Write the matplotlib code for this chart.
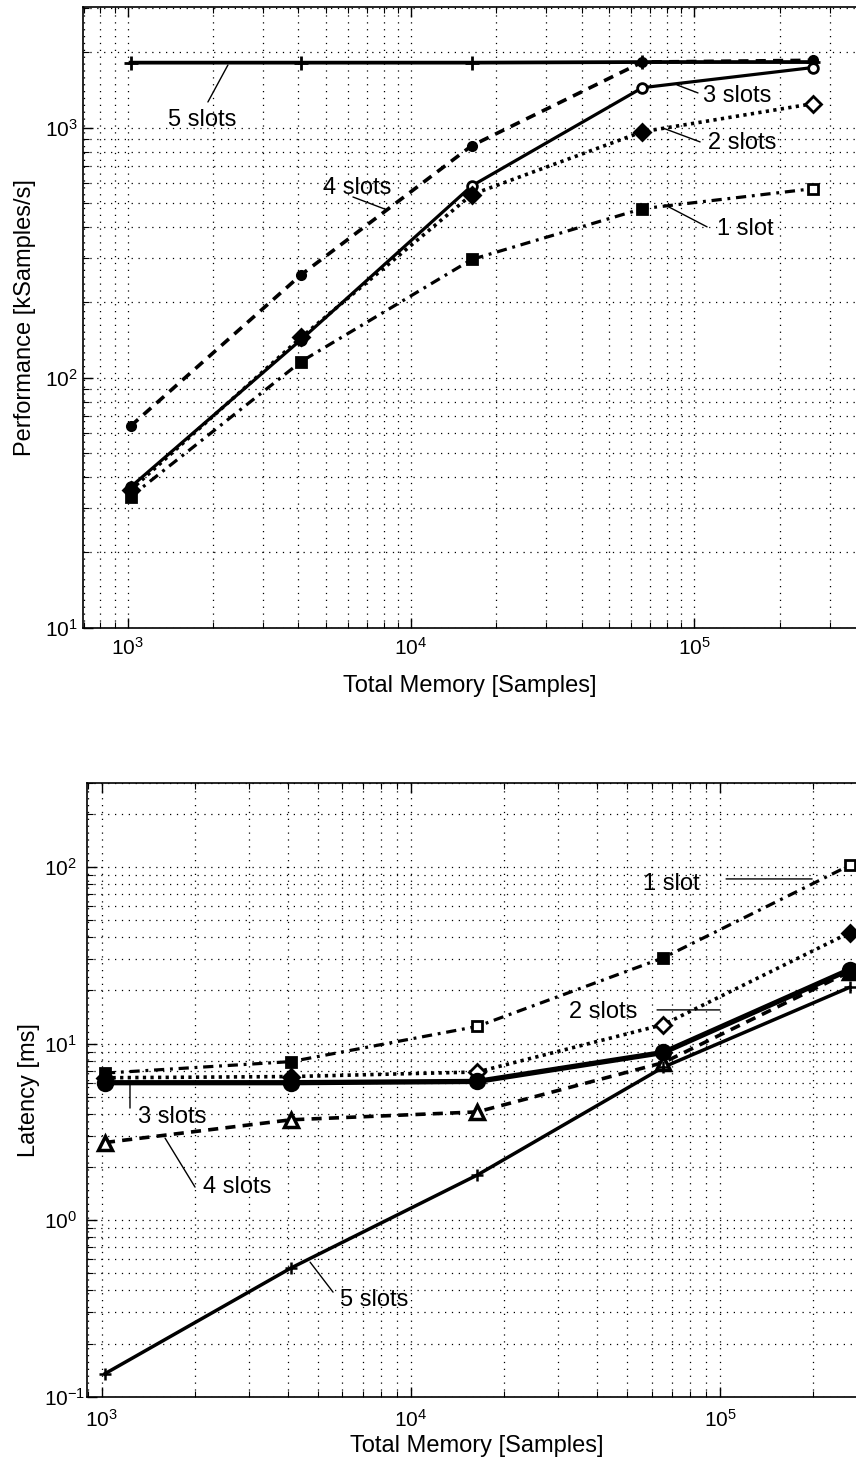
import matplotlib
matplotlib.use("Agg")
import matplotlib.pyplot as plt

plt.rcParams['font.family'] = ['Liberation Sans', 'DejaVu Sans']
plt.rcParams['mathtext.fontset'] = 'custom'
plt.rcParams['mathtext.rm'] = 'Liberation Sans'
plt.rcParams['mathtext.it'] = 'Liberation Sans:italic'
plt.rcParams['mathtext.bf'] = 'Liberation Sans:bold'

# ---------------- data ----------------
memory = [1024, 4096, 16384, 65536, 262144]

perf_1slot = [33.4, 116, 297, 474, 570]
perf_2slots = [35.5, 145, 540, 963, 1247]
perf_3slots = [36.5, 142, 585, 1445, 1740]
perf_4slots = [64, 258, 847, 1830, 1860]
perf_5slots = [1820, 1820, 1820, 1830, 1830]

lat_1slot = [6.8, 7.9, 12.5, 30.6, 102]
lat_2slots = [6.4, 6.5, 6.9, 12.8, 42.4]
lat_3slots = [6.0, 6.0, 6.1, 8.9, 26.2]
lat_4slots = [2.75, 3.7, 4.1, 7.8, 25.5]
lat_5slots = [0.135, 0.536, 1.8, 7.35, 20.8]

xlabel = "Total Memory [Samples]"
ylabel_top = "Performance [kSamples/s]"
ylabel_bot = "Latency [ms]"

# annotations: label, text position, line start, line end (data coords)
top_notes = [
    ("5 slots", (1829, 1073), (1920, 1267), (2259, 1781)),
    ("4 slots", (6442, 574), (6240, 528), (8222, 469)),
    ("3 slots", (141600, 1339), (103000, 1377), (86900, 1482)),
    ("2 slots", (147300, 865), (104800, 877), (77400, 997)),
    ("1 slot", (151000, 392), (110900, 401), (78700, 491)),
]
bot_notes = [
    ("1 slot", (69300, 80.1), (104500, 85.5), (198300, 85.5)),
    ("2 slots", (41800, 15.0), (62500, 15.5), (99900, 15.5)),
    ("3 slots", (1688, 3.83), (1234, 4.31), (1234, 5.97)),
    ("4 slots", (2739, 1.538), (2003, 1.538), (1602, 2.915)),
    ("5 slots", (7599, 0.352), (5598, 0.391), (4718, 0.578)),
]

fig = plt.figure(figsize=(8.56, 14.62), dpi=100)
ax1 = fig.add_axes([0.0964, 0.5707, 0.9036, 0.4243])
ax2 = fig.add_axes([0.1020, 0.04466, 0.8980, 0.4200])


def draw(ax, x, y, ls, lw, marker, ms, fills, mew, z=2):
    ax.plot(x, y, color='k', ls=ls, lw=lw, zorder=z)
    for fc in dict.fromkeys(fills):
        idx = [i for i, f in enumerate(fills) if f == fc]
        ax.plot(x, y, ls='none', marker=marker, ms=ms, mfc=fc, mec='k',
                mew=mew, markevery=idx, zorder=z + 0.5)


DASH = (0, (2.8, 2.0))
DASHDOT = (0, (3.2, 1.8, 0.9, 1.8))
DOT = (0, (0.9, 1.2))

# ---- top: performance ----
draw(ax1, memory, perf_5slots, '-', 2.7, '+', 10, ['k'] * 5, 2.0)
draw(ax1, memory, perf_4slots, DASH, 2.6, 'o', 6.5, ['k'] * 5, 1.5)
draw(ax1, memory, perf_3slots, '-', 2.3, 'o', 7, ['w'] * 5, 2.0)
draw(ax1, memory, perf_2slots, DOT, 2.6, 'D', 8.5, ['k', 'k', 'k', 'k', 'w'], 2.0)
draw(ax1, memory, perf_1slot, DASHDOT, 2.3, 's', 7, ['k', 'k', 'k', 'k', 'w'], 2.0)

# ---- bottom: latency ----
draw(ax2, memory, lat_1slot, DASHDOT, 2.3, 's', 7, ['k', 'k', 'w', 'k', 'w'], 2.0)
draw(ax2, memory, lat_2slots, DOT, 2.6, 'D', 8.5, ['k', 'k', 'w', 'w', 'k'], 2.0)
draw(ax2, memory, lat_4slots, DASH, 2.6, '^', 10, ['w'] * 5, 2.5)
draw(ax2, memory, lat_5slots, '-', 2.5, '+', 8, ['k'] * 5, 1.8)
draw(ax2, memory, lat_3slots, '-', 3.8, 'o', 11, ['k'] * 5, 1.5, z=3)

for ax, notes in ((ax1, top_notes), (ax2, bot_notes)):
    for label, tpos, p0, p1 in notes:
        ax.text(tpos[0], tpos[1], label, fontsize=17, ha='center',
                va='center', zorder=5)
        ax.annotate('', xy=p1, xytext=p0,
                    arrowprops=dict(arrowstyle='-', lw=1.0, color='k',
                                    shrinkA=0, shrinkB=0))

ax1.set_xlim(693, 372000)
ax1.set_ylim(10, 3030)
ax2.set_xlim(898, 275000)
ax2.set_ylim(0.1, 300)

for ax in (ax1, ax2):
    ax.set_xscale('log')
    ax.set_yscale('log')
    ax.grid(True, which='both', color='k', ls=(0, (1.0, 4.5)), lw=0.9)
    ax.set_axisbelow(True)
    ax.tick_params(which='both', direction='in', top=True, right=False,
                   labelsize=15, colors='k')
    ax.tick_params(which='major', length=7, width=1.0)
    ax.tick_params(which='minor', length=4, width=0.8)
    ax.spines['right'].set_visible(False)
    for s in ('left', 'bottom', 'top'):
        ax.spines[s].set_linewidth(1.2)
    ax.set_xlabel(xlabel, fontsize=17)

ax1.set_ylabel(ylabel_top, fontsize=17)
ax2.set_ylabel(ylabel_bot, fontsize=17)

ax1.tick_params(axis='x', which='major', pad=7)
ax2.tick_params(axis='x', which='major', pad=9)
ax1.tick_params(axis='y', which='major', pad=27)
ax2.tick_params(axis='y', which='major', pad=31)

ax1.xaxis.set_label_coords(0.501, -0.077)
ax2.xaxis.set_label_coords(0.507, -0.062)
ax1.yaxis.set_label_coords(-0.060, 0.5)
ax2.yaxis.set_label_coords(-0.061, 0.5)

fig.canvas.draw()
for ax in (ax1, ax2):
    for t in ax.yaxis.get_major_ticks():
        t.label1.set_horizontalalignment('left')

fig.savefig("out.png", dpi=100, facecolor='white')
